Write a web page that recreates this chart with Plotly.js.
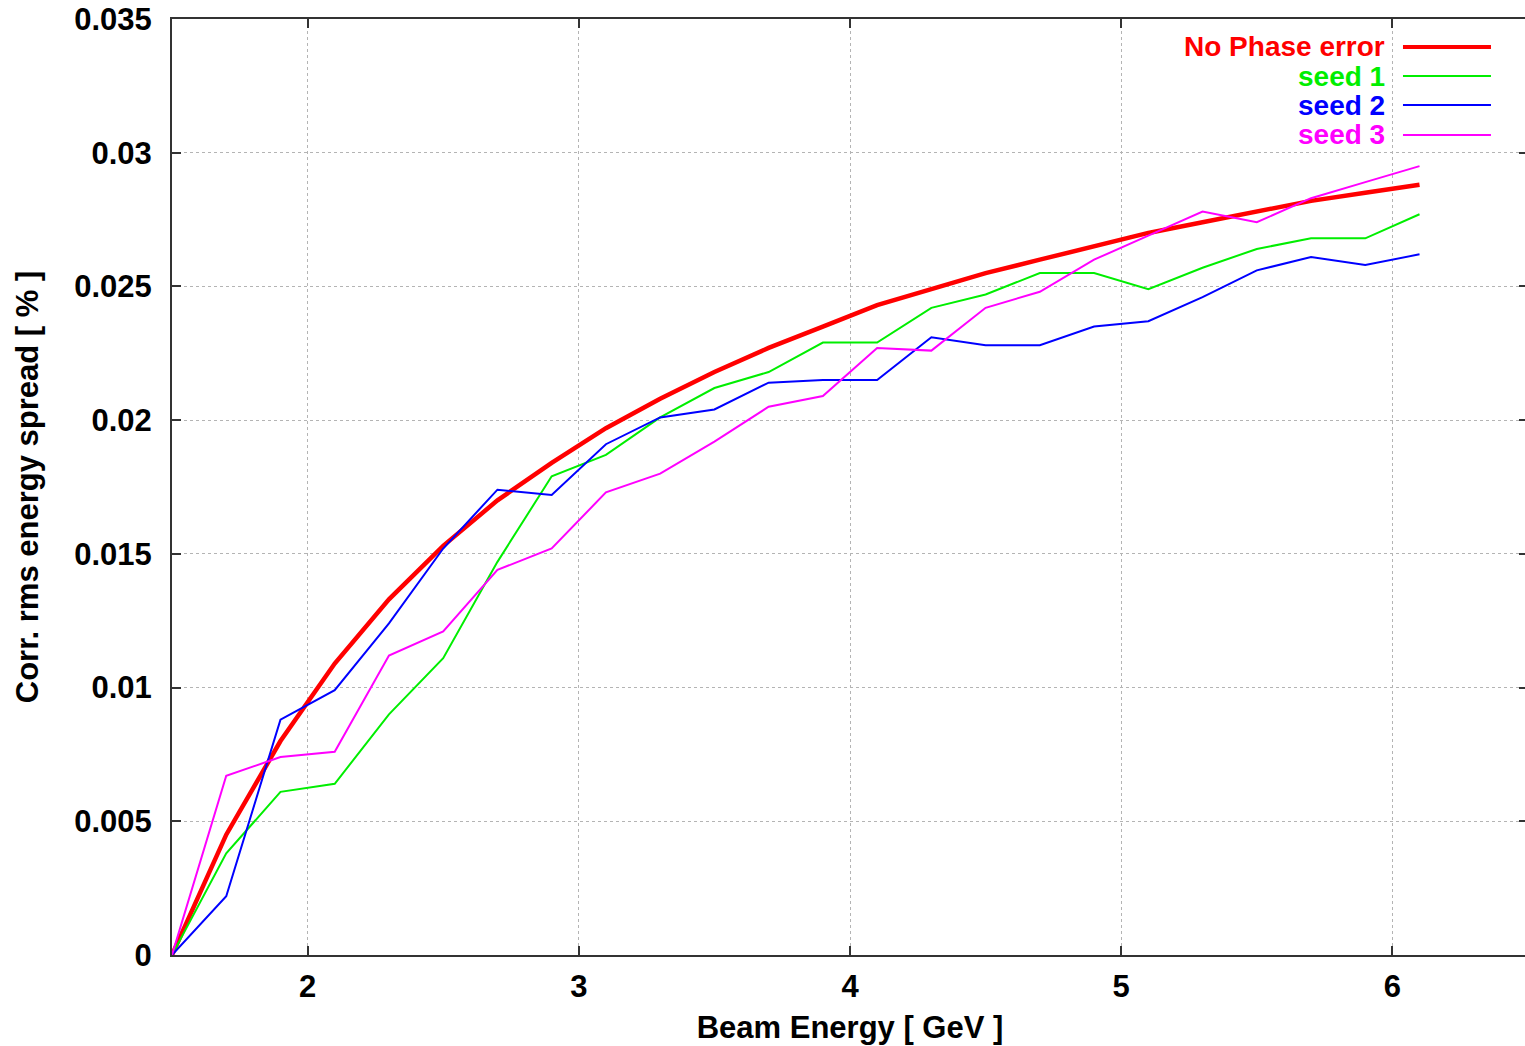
<!DOCTYPE html>
<html>
<head>
<meta charset="utf-8">
<script src="https://cdn.plot.ly/plotly-3.0.1.min.js"></script>
<style>
  html, body { margin: 0; padding: 0; background: #fff; overflow: hidden; }
  #chart { width: 1528px; height: 1046px; }
</style>
</head>
<body>
<div id="chart"></div>
<script>
// Beam energy [GeV]
const energy = [1.5, 1.7, 1.9, 2.1, 2.3, 2.5, 2.7, 2.9, 3.1, 3.3, 3.5, 3.7, 3.9, 4.1, 4.3, 4.5, 4.7, 4.9, 5.1, 5.3, 5.5, 5.7, 5.9, 6.1];

// Corr. rms energy spread [%]
const noPhaseError = [0, 0.0045, 0.0080, 0.0109, 0.0133, 0.0153, 0.0170, 0.0184, 0.0197, 0.0208, 0.0218, 0.0227, 0.0235, 0.0243, 0.0249, 0.0255, 0.0260, 0.0265, 0.0270, 0.0274, 0.0278, 0.0282, 0.0285, 0.0288];
const seed1 = [0, 0.0038, 0.0061, 0.0064, 0.0090, 0.0111, 0.0147, 0.0179, 0.0187, 0.0201, 0.0212, 0.0218, 0.0229, 0.0229, 0.0242, 0.0247, 0.0255, 0.0255, 0.0249, 0.0257, 0.0264, 0.0268, 0.0268, 0.0277];
const seed2 = [0, 0.0022, 0.0088, 0.0099, 0.0124, 0.0152, 0.0174, 0.0172, 0.0191, 0.0201, 0.0204, 0.0214, 0.0215, 0.0215, 0.0231, 0.0228, 0.0228, 0.0235, 0.0237, 0.0246, 0.0256, 0.0261, 0.0258, 0.0262];
const seed3 = [0, 0.0067, 0.0074, 0.0076, 0.0112, 0.0121, 0.0144, 0.0152, 0.0173, 0.0180, 0.0192, 0.0205, 0.0209, 0.0227, 0.0226, 0.0242, 0.0248, 0.0260, 0.0269, 0.0278, 0.0274, 0.0283, 0.0289, 0.0295];

const seriesNames = ["No Phase error", "seed 1", "seed 2", "seed 3"];
const seriesValues = [noPhaseError, seed1, seed2, seed3];
const seriesColors = ["#ff0000", "#00ee00", "#0000ff", "#ff00ff"];
const seriesWidths = [4.5, 2, 2, 2];

const xTitle = "Beam Energy [ GeV ]";
const yTitle = "Corr. rms energy spread [ % ]";

const FONT = "Liberation Sans, Arial, Helvetica, sans-serif";
const FS = 31;
const KEY_FS = 28;

const traces = seriesNames.map((name, i) => ({
  type: "scatter",
  mode: "lines",
  name: name,
  x: energy,
  y: seriesValues[i],
  line: { color: seriesColors[i], width: seriesWidths[i] },
  showlegend: false,
  hoverinfo: "x+y+name"
}));

// Gnuplot-style key: right-aligned text followed by a line sample
const keyTextX = 0.8953;
const keySampleX0 = 0.9078;
const keySampleX1 = 0.9727;
const keyRowY = [0.9701, 0.9391, 0.9081, 0.8761];
const keyWidths = [4, 2, 2, 2];

const annotations = seriesNames.map((name, i) => ({
  xref: "paper", yref: "paper",
  x: keyTextX, y: keyRowY[i],
  xanchor: "right", yanchor: "middle",
  text: "<b>" + name + "</b>",
  showarrow: false,
  borderpad: 0,
  font: { family: FONT, size: KEY_FS, color: seriesColors[i] }
}));

const shapes = seriesNames.map((name, i) => ({
  type: "line", xref: "paper", yref: "paper",
  x0: keySampleX0, x1: keySampleX1, y0: keyRowY[i], y1: keyRowY[i],
  line: { color: seriesColors[i], width: keyWidths[i] }
}));

const axisCommon = {
  showline: true,
  linecolor: "#333333",
  linewidth: 2,
  mirror: "ticks",
  ticks: "inside",
  ticklen: 9,
  tickwidth: 2,
  tickcolor: "#333333",
  showgrid: true,
  gridcolor: "#b4b4b4",
  gridwidth: 1,
  griddash: "dot",
  zeroline: false,
  tickfont: { family: FONT, size: FS, color: "#000000", weight: "bold" }
};

const layout = {
  width: 1528,
  height: 1046,
  paper_bgcolor: "#ffffff",
  plot_bgcolor: "#ffffff",
  margin: { l: 172, r: 0, t: 19, b: 91 },
  font: { family: FONT, color: "#000000" },
  xaxis: Object.assign({}, axisCommon, {
    range: [1.5, 6.5],
    tick0: 0,
    dtick: 1,
    ticklabelstandoff: 3,
    title: { text: "<b>" + xTitle + "</b>", font: { family: FONT, size: FS, color: "#000" }, standoff: 13 }
  }),
  yaxis: Object.assign({}, axisCommon, {
    range: [0, 0.035],
    tick0: 0,
    dtick: 0.005,
    ticklabelstandoff: 12,
    title: { text: "<b>" + yTitle + "</b>", font: { family: FONT, size: FS, color: "#000" }, standoff: 26 }
  }),
  annotations: annotations,
  shapes: shapes,
  showlegend: false
};

Plotly.newPlot("chart", traces, layout, { displayModeBar: false });
</script>
</body>
</html>
